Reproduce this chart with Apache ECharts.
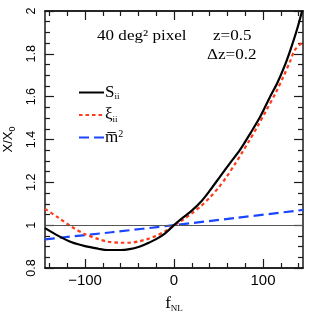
<!DOCTYPE html>
<html><head><meta charset="utf-8">
<script src="https://cdn.jsdelivr.net/npm/echarts@6/dist/echarts.min.js"></script>
<style>html,body{margin:0;padding:0;background:#fff}#c{width:316px;height:317px}</style>
</head><body><div id="c"></div>
<script>
// f_NL values and X/X0 for each curve
const sX  = [-145,-130,-115,-100,-85,-75,-60,-50,-40,-30,-20,-10,0,10,20,30,40,52,63,74,86,97,108,116,124,131,138,144];
const sY  = [0.986,0.950,0.920,0.902,0.890,0.884,0.884,0.888,0.898,0.915,0.935,0.962,1.000,1.035,1.068,1.108,1.160,1.228,1.290,1.350,1.430,1.507,1.600,1.663,1.740,1.820,1.910,2.000];
const xiX = [-145,-130,-115,-100,-85,-75,-60,-50,-40,-30,-20,-10,0,10,20,30,40,50,59,68,76,84,94,104,114,123,130,136,145];
const xiY = [1.076,1.035,0.992,0.958,0.935,0.923,0.918,0.918,0.924,0.935,0.950,0.972,0.998,1.025,1.055,1.088,1.128,1.175,1.225,1.282,1.335,1.390,1.462,1.538,1.615,1.694,1.760,1.819,1.855];
const mX  = [-145,-70,0,70,145];
const mY  = [0.934,0.967,1.000,1.034,1.071];
const xMajor = [-100,0,100];
const xMinor = [-140,-120,-80,-60,-40,-20,20,40,60,80,120,140];
const names = ['S','xi','m2'];

const pairs = (xs, ys) => xs.map((x, i) => [x, ys[i]]);
const AX = '#1a1a1a';
const sans = 'Liberation Sans';
const serif = 'Liberation Serif';

function xAxisDef(pos, ticks, len, labels) {
  return {
    type: 'value', min: -145, max: 145, position: pos,
    axisLine: {show: true, onZero: false, lineStyle: {color: AX, width: 1.5}},
    axisTick: {show: true, inside: true, length: len, customValues: ticks, lineStyle: {color: AX, width: 1.2}},
    axisLabel: labels ? {show: true, customValues: ticks, fontFamily: sans, fontSize: 15, color: '#000', margin: 5,
      formatter: v => (v < 0 ? '\u2212' + Math.abs(v) : String(v))} : {show: false},
    splitLine: {show: false},
    name: labels ? '{f|f}{s|NL}' : '',
    nameLocation: 'middle', nameGap: 26,
    nameTextStyle: {rich: {f: {fontFamily: serif, fontSize: 17, color: '#000'}, s: {fontFamily: serif, fontSize: 9, color: '#000', padding: [10, 0, 0, 0]}}}
  };
}
function yAxisDef(pos, labels) {
  return {
    type: 'value', min: 0.8, max: 2, interval: 0.2, position: pos,
    axisLine: {show: true, onZero: false, lineStyle: {color: AX, width: 1.5}},
    axisTick: {show: true, inside: true, length: 9, lineStyle: {color: AX, width: 1.2}},
    minorTick: {show: true, splitNumber: 4, length: 5, lineStyle: {color: AX, width: 1.2}},
    axisLabel: labels ? {show: true, rotate: 90, fontFamily: sans, fontSize: 12.5, color: '#000', margin: 7,
      formatter: v => String(Math.round(v * 10) / 10)} : {show: false},
    splitLine: {show: false}, minorSplitLine: {show: false},
    name: labels ? '{a|X/X}{s|0}' : '',
    nameLocation: 'middle', nameRotate: 90, nameGap: 24,
    nameTextStyle: {rich: {a: {fontFamily: sans, fontSize: 13, color: '#000'}, s: {fontFamily: sans, fontSize: 9, color: '#000', padding: [8, 0, 0, 0]}}}
  };
}

const chart = echarts.init(document.getElementById('c'), null, {renderer: 'canvas'});
chart.setOption({
  animation: false,
  backgroundColor: '#fff',
  grid: {left: 45, right: 13, top: 11, bottom: 49, containLabel: false, outerBoundsMode: 'none'},
  xAxis: [
    xAxisDef('bottom', xMajor, 9, true),
    xAxisDef('bottom', xMinor, 5, false),
    xAxisDef('top', xMajor, 9, false),
    xAxisDef('top', xMinor, 5, false)
  ],
  yAxis: [yAxisDef('left', true), yAxisDef('right', false)],
  legend: {
    orient: 'vertical', left: 78, top: 84, padding: 0, itemWidth: 25, itemHeight: 12, itemGap: 5,
    itemStyle: {opacity: 0},
    data: names,
    formatter: n => n === 'S' ? '{b|S}{s|ii}' : n === 'xi' ? '{b|\u03be}{s|ii}' : '{b|m\u0305}{p|2}',
    textStyle: {padding: [0, 0, 0, -4], rich: {
      b: {fontFamily: serif, fontSize: 17, color: '#000'},
      s: {fontFamily: serif, fontSize: 9, color: '#000', padding: [9, 0, 0, 0]},
      p: {fontFamily: serif, fontSize: 10, color: '#000', padding: [0, 0, 6, 0]}
    }}
  },
  graphic: [
    {type: 'text', x: 97, y: 29, scaleX: 1.22, style: {text: '40 deg\u00b2 pixel', font: '14px "Liberation Serif"', fill: '#000'}},
    {type: 'text', x: 213, y: 29, scaleX: 1.22, style: {text: 'z=0.5', font: '14px "Liberation Serif"', fill: '#000'}},
    {type: 'text', x: 207, y: 48, scaleX: 1.22, style: {text: '\u0394z=0.2', font: '14px "Liberation Serif"', fill: '#000'}}
  ],
  series: [
    {name: 'S', type: 'line', data: pairs(sX, sY), smooth: 0.3, symbol: 'none', z: 5,
      lineStyle: {color: '#000', width: 2.2}, itemStyle: {color: '#000'},
      markLine: {silent: true, symbol: 'none', label: {show: false},
        lineStyle: {color: '#555', width: 1, type: 'solid'}, data: [{yAxis: 1}]}},
    {name: 'xi', type: 'line', data: pairs(xiX, xiY), smooth: 0.3, symbol: 'none', z: 4,
      lineStyle: {color: '#ff3a1a', width: 2.2, type: [3.5, 3]}, itemStyle: {color: '#ff3a1a'}},
    {name: 'm2', type: 'line', data: pairs(mX, mY), smooth: 0.3, symbol: 'none', z: 3,
      lineStyle: {color: '#1a46ff', width: 2.2, type: [10, 5]}, itemStyle: {color: '#1a46ff'}}
  ]
});
</script></body></html>
